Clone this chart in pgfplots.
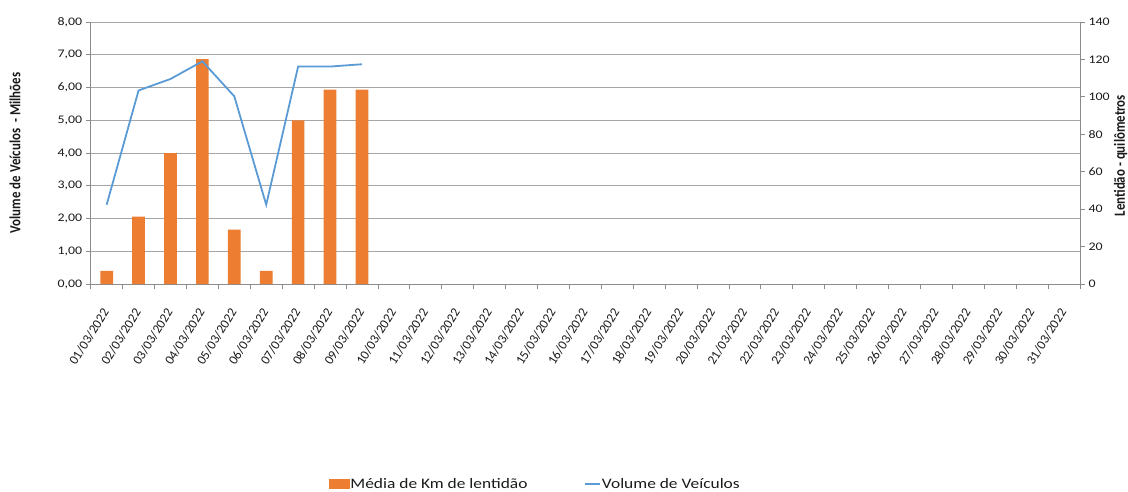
\documentclass[border=0pt]{standalone}
\usepackage{fontspec}
\setmainfont{Carlito}[FakeStretch=1.2]
\newfontfamily\plainfont{Carlito}
\usepackage{pgfplots}
\pgfplotsset{compat=1.18}
\definecolor{exorange}{HTML}{ED7D31}
\definecolor{exblue}{HTML}{5B9BD5}
\definecolor{gridgray}{HTML}{A6A6A6}
\definecolor{axgray}{HTML}{8C8C8C}
\definecolor{txt}{HTML}{1A1A1A}

\pgfplotstableread{
x km
0 7
1 36
2 70
3 120.2
4 29
5 7
6 87.4
7 103.8
8 103.8
}\kmdata

\pgfplotstableread{
x vol
0 2.42
1 5.91
2 6.26
3 6.80
4 5.73
5 2.42
6 6.64
7 6.64
8 6.71
}\voldata

\pgfplotsset{
  base/.style={
    at={(0,0)}, anchor=south west, scale only axis,
    width=989.3pt, height=262pt,
    xmin=-0.5, xmax=30.5,
    tick align=outside, major tick length=5pt,
    axis line style={axgray, line width=0.8pt},
    every tick/.style={axgray, line width=0.8pt},
    ticklabel style={font=\fontsize{11.6}{13}\selectfont, text=txt},
  }
}

\begin{document}
\begin{tikzpicture}
\path[use as bounding box] (-90.7pt,-207pt) rectangle (1037.3pt,284pt);

% Axis A: left axis, grid, date labels
\begin{axis}[base,
  ymin=0, ymax=8, ytick={0,1,...,8},
  axis y line*=left, axis x line*=bottom,
  ymajorgrids, major grid style={gridgray, line width=0.8pt},
  xtick={0,1,...,30},
  xticklabels={01/03/2022,02/03/2022,03/03/2022,04/03/2022,05/03/2022,06/03/2022,07/03/2022,08/03/2022,09/03/2022,10/03/2022,11/03/2022,12/03/2022,13/03/2022,14/03/2022,15/03/2022,16/03/2022,17/03/2022,18/03/2022,19/03/2022,20/03/2022,21/03/2022,22/03/2022,23/03/2022,24/03/2022,25/03/2022,26/03/2022,27/03/2022,28/03/2022,29/03/2022,30/03/2022,31/03/2022},
  xtick style={draw=none},
  xticklabel style={font=\plainfont\fontsize{13.1}{15}\selectfont, xshift=1pt, yshift=-18pt, rotate=58, anchor=east},
  yticklabel style={/pgf/number format/.cd, fixed, fixed zerofill, precision=2, use comma, assume math mode=true},
  ylabel={\bfseries Volume de Veículos\ \ - Milhões},
  every axis y label/.style={at={(axis description cs:-0.0765,0.5)}, anchor=center, xscale=1.2, rotate=90, font=\plainfont\fontsize{12.9}{14}\selectfont, text=txt},
]
\end{axis}

% Axis B: right axis, bars
\begin{axis}[base,
  ymin=0, ymax=140, ytick={0,20,...,140},
  axis y line*=right, axis x line*=bottom,
  xtick={-0.5,0.5,...,30.5}, xticklabels={},
  yticklabel style={/pgf/number format/assume math mode=true},
  ylabel={\bfseries Lentidão - quilômetros},
  every axis y label/.style={at={(axis description cs:1.0412,0.49)}, anchor=center, xscale=1.2, rotate=90, font=\plainfont\fontsize{12.9}{14}\selectfont, text=txt},
]
\addplot[ybar, bar width=12.7pt, fill=exorange, draw=none] table[x=x, y=km] {\kmdata};
\end{axis}

% Axis C: line on left scale, legend
\begin{axis}[base,
  ymin=0, ymax=8, hide axis,
  legend style={at={(0.449,-0.763)}, anchor=center, draw=none, fill=none,
    font=\fontsize{14.5}{16}\selectfont, text=txt, legend columns=2,
    /tikz/every even column/.append style={column sep=55pt},
    inner sep=0pt, nodes={inner sep=1.5pt}},
]
\addlegendimage{legend image code/.code={\fill[exorange] (0pt,-4.5pt) rectangle (20pt,4.5pt);}}
\addlegendentry{Média de Km de lentidão}
\addplot[exblue, line width=1.8pt, legend image code/.code={\draw[exblue, line width=1.5pt] (0pt,0pt) -- (15pt,0pt);}] table[x=x, y=vol] {\voldata};
\addlegendentry{Volume de Veículos}
\end{axis}
\end{tikzpicture}
\end{document}
